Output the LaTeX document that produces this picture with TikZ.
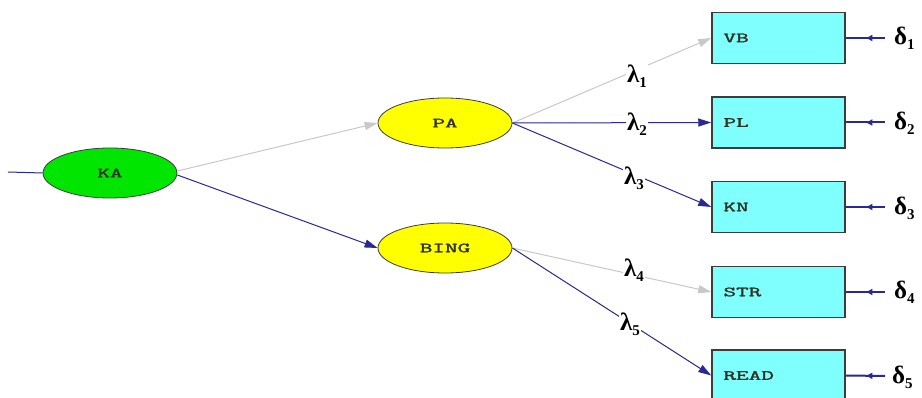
\documentclass[tikz,border=0pt]{standalone}
\usepackage{fontspec}
\setmainfont{Liberation Serif}
\newfontfamily\lisfont[FakeBold=1.6]{Latin Modern Mono}
\usetikzlibrary{arrows.meta,decorations.markings,shapes.geometric}
\definecolor{lblue}{RGB}{40,40,150}
\definecolor{lgray}{RGB}{200,200,200}
\definecolor{kagreen}{RGB}{0,230,0}
\definecolor{payellow}{RGB}{255,255,0}
\definecolor{boxcyan}{RGB}{128,255,255}
\definecolor{edgegray}{RGB}{60,60,60}
\definecolor{txtcol}{RGB}{45,50,35}
\newcommand{\bt}[1]{\scalebox{1.75}[1]{\lisfont\fontsize{14}{14}\selectfont #1}}
\newcommand{\gsym}[2]{{\bfseries\fontsize{25}{25}\selectfont #1}\raisebox{-5pt}{\bfseries\fontsize{15}{15}\selectfont #2}}
\tikzset{
  latent/.style={ellipse, draw=edgegray, line width=0.8pt, minimum width=134pt, minimum height=50pt, inner sep=0pt, text=txtcol},
  obsbox/.style={rectangle, draw=edgegray, line width=1.5pt, fill=boxcyan, minimum width=133pt, minimum height=51pt, inner sep=0pt},
  boxtxt/.style={anchor=west, inner sep=0pt, text=txtcol},
  blueline/.style={draw=lblue, line width=1pt},
  grayline/.style={draw=lgray, line width=1pt},
  bluearr/.style={blueline, -{Triangle[length=13pt,width=8pt,fill=lblue]}},
  grayarr/.style={grayline, -{Triangle[length=13pt,width=8pt,fill=lgray]}},
  lam/.style={fill=white, inner sep=1pt},
  del/.style={inner sep=0pt, anchor=west},
  errarr/.style={draw=lblue, line width=2pt,
    decoration={markings, mark=at position 0.5 with {\arrow{Latex[length=7pt,width=7pt]}}},
    postaction={decorate}},
}
\begin{document}
\begin{tikzpicture}[x=1pt,y=-1pt]
\useasboundingbox (0,0) rectangle (922,398);
% latent variables
\node[latent, fill=kagreen] (ka) at (110,173) {\bt{KA}};
\node[latent, fill=payellow] (pa) at (445,123) {\bt{PA}};
\node[latent, fill=payellow] (bing) at (445,248) {\bt{BING}};
% observed boxes
\node[obsbox] (vb) at (778.5,38) {};
\node[obsbox] (pl) at (778.5,122.5) {};
\node[obsbox] (kn) at (778.5,207) {};
\node[obsbox] (str) at (778.5,292) {};
\node[obsbox] (read) at (778.5,375.5) {};
\node[boxtxt] (tvb) at ([xshift=12pt]vb.west) {\bt{VB}};
\node[boxtxt] (tpl) at ([xshift=12pt]pl.west) {\bt{PL}};
\node[boxtxt] (tkn) at ([xshift=12pt]kn.west) {\bt{KN}};
\node[boxtxt] (tstr) at ([xshift=12pt]str.west) {\bt{STR}};
\node[boxtxt] (tread) at ([xshift=12pt]read.west) {\bt{READ}};
% input line
\coordinate (kin) at (8,172);
\draw[blueline] (kin) -- (ka.west);
% structural paths
\draw[grayarr] (ka.east) ++(0,-2) coordinate (kae1) (kae1) -- (pa.west);
\draw[bluearr] (ka.east) ++(0,2) coordinate (kae2) (kae2) -- (bing.west);
% loadings
\draw[grayarr] (pa.east) -- (vb.west);
\draw[bluearr] (pa.east) -- (pl.west);
\draw[bluearr] (pa.east) -- (kn.west);
\draw[grayarr] (bing.east) -- (str.west);
\draw[bluearr] (bing.east) -- (read.west);
% lambda labels
\node[lam] (l1) at (637,76) {\gsym{λ}{1}};
\node[lam] (l2) at (637,124) {\gsym{λ}{2}};
\node[lam] (l3) at (634,178) {\gsym{λ}{3}};
\node[lam] (l4) at (634,270) {\gsym{λ}{4}};
\node[lam] (l5) at (630,324) {\gsym{λ}{5}};
% deltas
\node[del] (d1) at (894,38) {\gsym{δ}{1}};
\node[del] (d2) at (894,123) {\gsym{δ}{2}};
\node[del] (d3) at (894,208) {\gsym{δ}{3}};
\node[del] (d4) at (894,292) {\gsym{δ}{4}};
\node[del] (d5) at (892,377) {\gsym{δ}{5}};
\coordinate (e1) at (885,38);
\coordinate (e2) at (885,122.5);
\coordinate (e3) at (885,207);
\coordinate (e4) at (885,292);
\coordinate (e5) at (885,376);
\draw[errarr] (e1) -- (vb.east);
\draw[errarr] (e2) -- (pl.east);
\draw[errarr] (e3) -- (kn.east);
\draw[errarr] (e4) -- (str.east);
\draw[errarr] (e5) -- (read.east);
\end{tikzpicture}
\end{document}
